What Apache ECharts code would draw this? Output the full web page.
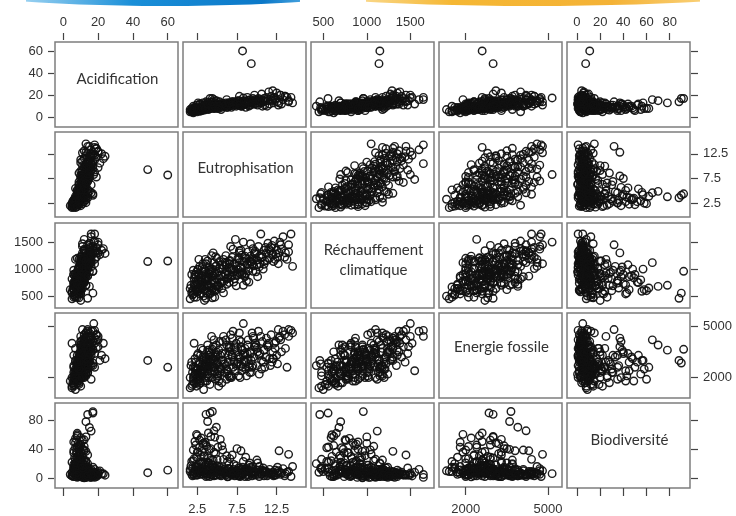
<!DOCTYPE html>
<html><head><meta charset="utf-8">
<script src="https://cdn.jsdelivr.net/npm/echarts@6/dist/echarts.min.js"></script>
<style>html,body{margin:0;padding:0;background:#fff}#c{width:736px;height:516px}</style>
</head><body><div id="c"></div>
<script>
// One value per observation; the five arrays share the same order.
const acidification = [60,48.5,14,17,17,13,15,16,12,8, 7,6,8.5,10,7,9,6,8,7.5,9, 11,10,13,14,8,6.5,9,7,10,8, 5,7,9.5,6,12,8,10,7,5,6, 4,7.5,6,5,8,6,12,5.5,8,6, 13,7,6.5,8,11.5,9,8,10.5,12,9, 8,10,9,14,8.5,10,9,11,10,9.5, 12,10,11,9,12.5,10,11,13,10,12, 11,13,12,10.5,14,12,11,13,12,14, 11.5,13,12,15,13,12,14,17.5,15,12, 14,13,15.5,14,16,13,15,14,16,15, 17,14,16,10,17,11,18,15,12,19, 16,18,22,11,20,16,19,15,18,13, 8,9,11,7,10,12,9,13,11,14, 10,12,8,13,11,15,10,12,14,9, 16,11,7,13,10,12,15,9,12,14, 8,11,20,23,24,18,6,5,10,13,
  9,11,10,8,12,10,9,11,13,8, 12,9,10,7,11,13,6,9,12,8, 10,14,7,11,13,9,12,15,10,13, 11,14,12,16,13,10,15,17,12,19, 8,12,10,9,11,7,13,14,10,16, 18,21,19,20,17,6,8,10,7,9, 12,11,9,13,8,11,9,12,10,13, 11,14,12,15,16,13,7,8,11,14];
const eutrophisation = [8.2,9.3,3.6,4.1,4.4,3.8,4.9,4.6,5.4,2.5, 3.0,2.2,3.3,3.6,2.8,4.2,2.0,3.1,2.6,4.8, 7.5,8.0,12.8,14.0,3.4,2.4,3.9,2.1,5.8,4.5, 1.8,3.2,4.0,2.7,6.5,3.5,5.0,2.3,1.6,1.9, 2.0,2.2,2.4,2.5,2.6,2.7,2.8,2.9,3.0,3.1, 3.2,3.3,3.4,3.5,3.6,3.7,3.8,3.9,4.0,4.1, 4.2,4.3,4.4,4.5,4.6,4.7,4.8,4.9,5.0,5.1, 5.2,5.3,5.5,5.6,5.7,5.9,6.0,6.1,6.2,6.3, 6.4,6.6,6.7,6.8,6.9,7.0,7.1,7.2,7.3,7.4, 7.5,7.6,7.7,7.8,7.9,8.0,8.1,8.3,8.4,8.5, 8.6,8.8,8.9,9.0,9.2,9.3,9.5,9.6,9.8,10.0, 10.2,10.4,10.5,10.7,10.9,11.0,11.2,11.4,11.6,11.8, 12.0,12.2,12.5,12.7,13.0,13.3,13.6,14.0,14.3,14.5, 2.9,3.5,4.4,3.9,5.4,6.5,6.3,7.1,8.2,9.1, 5.8,4.8,5.2,6.9,7.8,9.9,3.2,8.7,10.8,4.3, 12.3,6.1,2.3,9.4,7.4,5.0,11.1,2.6,8.0,12.6, 4.7,10.1,9.7,11.5,12.0,13.8,1.7,2.1,6.6,10.3,
  2.3,2.8,3.2,3.7,4.0,4.6,2.9,3.3,4.2,2.4, 5.6,6.2,2.0,3.0,3.8,2.6,1.9,2.2,3.6,4.1, 4.9,5.3,5.5,6.0,6.4,6.8,7.2,7.6,8.1,8.5, 8.9,9.4,9.8,10.3,10.6,11.3,11.9,12.4,13.1,13.5, 5.0,4.5,3.4,4.4,6.7,2.7,8.3,7.0,9.0,6.2, 8.8,10.6,7.8,12.9,9.5,2.5,3.9,4.7,3.5,5.1, 5.7,6.9,8.6,10.0,2.1,2.4,3.1,3.8,5.2,6.5, 7.9,8.4,9.6,10.9,11.7,12.1,1.6,1.8,9.2,4.3];
const rechauffement = [1150,1140,460,555,960,700,680,1120,750,620, 800,900,1000,860,540,730,980,650,780,1050, 900,950,1300,1450,600,700,830,480,1180,880, 560,740,920,640,1020,810,690,900,450,520, 620,700,480,580,800,900,1050,640,560,760, 950,500,680,880,1100,600,720,840,980,540, 660,790,1000,870,620,930,760,1060,820,700, 960,1140,880,640,1000,780,900,1080,720,950, 830,1160,1010,860,1220,940,760,1100,1550,1050, 880,990,1180,1120,920,1040,1260,1500,1140,860, 1200,1080,1320,1010,1240,1130,1380,1060,1280,1170, 1420,1100,1650,1230,1350,1150,1300,1480,1200,1400, 1260,1520,1350,1100,1450,1600,1300,1320,1650,1050, 850,1180,640,920,1020,750,840,1000,920,1150, 560,1230,870,870,1300,950,1100,780,1000,590, 1180,1250,770,1180,690,930,1400,1000,1350,1220, 480,860,1300,1380,1290,1180,700,820,1100,1240,
  620,760,880,560,1040,790,690,940,1000,600, 1080,820,540,720,1150,990,600,860,780,950, 620,1020,740,1130,890,1010,820,1200,900,1240, 970,1090,1330,1040,1210,1160,1440,1280,1370,1220, 1200,1300,420,470,1420,1180,700,1370,760,1120, 1100,1270,1340,1500,960,740,650,590,840,710, 860,980,920,1080,720,950,1030,810,670,1150, 1020,880,1190,1090,1340,1140,640,900,1470,1250];
const energieFossile = [2600,3000,3000,2850,3650,3600,3900,4200,3300,2500, 2200,2600,3100,2900,1800,3400,2000,2700,1900,3200, 3500,3800,4300,4800,2300,1700,3000,2100,4400,2600, 1500,2400,3300,1600,3700,2800,2200,2500,1400,1600, 1800,2200,1500,2000,2500,1900,2800,1700,2400,2100, 3000,1300,2300,2600,3200,1800,2700,2200,3500,1600, 2900,2000,3100,3800,2400,2600,1900,3300,2800,2100, 3600,4100,2500,1700,3000,2300,3400,2700,3900,2200, 2900,3500,4500,2000,3200,2600,3000,3700,2400,4000, 2800,3300,2100,4600,3100,2700,3600,5150,3000,3400, 2500,3900,4200,2800,3500,2300,4400,3200,3800,2700, 4700,3400,4400,4100,3600,2600,4300,3800,3100,4500, 3500,4000,3300,4800,4200,4700,3700,4400,4750,4600, 3300,2700,3100,2000,2600,3800,2400,2900,3600,2300, 2800,3400,1800,4300,3200,3900,3600,2100,2900,2600, 3700,4200,2900,4600,2700,2900,3200,2300,4100,2800, 2300,3500,3800,4000,3100,2600,2700,4000,2000,2200,
  2400,2900,3200,2100,3600,2600,2300,2800,3000,1900, 3400,2500,2600,3700,2500,3400,2300,3100,2000,2700, 3500,2300,3000,2800,3300,2100,3800,2900,2400,3700, 3100,2600,4000,3300,2500,3900,2900,4100,3500,4500, 2000,3000,2700,2800,3800,2200,3300,4700,2600,1900, 3400,3000,4200,4400,2700,3300,2600,3000,1800,2400, 4100,3300,2900,3700,1700,2100,2500,3900,1500,2100, 2000,2900,4300,3600,2700,3100,2000,2900,3400,4400];
const biodiversite = [11,7.5,88,90,92,78,70,65,53,58, 55,50,48,45,42,40,38,36,35,33, 40,37,37,32,30,28,27,26,25,24, 22,21,20,19,18,17,16,15,8,12, 5,10,14,3,6,9,11,4,13,7, 12,9,6,15,1,10,8,5,12,14, 4,9,7,11,2,13,6,8,10,12, 5,3,9,7,4,11,6,8,10,0.5, 12,5,7,9,4,6,11,2,8,5, 10,7,13,4,9,6,3,5,8,11, 7,4,1,9,6,12,5,8,3,10, 4,7,5,9,2,6,8,4,11,5, 7,3,6,9,4,12,5,8,1,15, 9,6,17,20,14,12,22,18,14,20, 8,3,15,6,2,7,4,9,13,24, 10,3,18,6,16,25,8,7,11,14, 12,20,9,6,4,7,16,3,26,15,
  45,52,47,43,39,35,31,29,57,60, 44,30,23,19,21,9,2,6,4,1, 3,10,2,5,1,3,4,2,5,1, 3,2,6,1,4,2,5,3,6,2, 11,8,20,14,5,13,22,9,17,6, 12,10,4,7,15,35,62,56,49,42, 38,31,28,24,7,3,10,2,8,12, 1,6,4,9,5,2,11,4,14,3];

const variables = [acidification, eutrophisation, rechauffement, energieFossile, biodiversite];
const varNames = ['Acidification', 'Eutrophisation', 'Réchauffement\nclimatique', 'Energie fossile', 'Biodiversité'];
const xTickValues = [[0,20,40,60],[2.5,7.5,12.5],[500,1000,1500],[2000,5000],[0,20,40,60,80]];
const yTickValues = [[0,20,40,60],[2.5,7.5,12.5],[500,1000,1500],[2000,5000],[0,40,80]];
const xRange = [[-4.77,65.9],[0.70,16.19],[359,1772],[1027,5510],[-8.6,97.5]];
const yRange = [[-8.8,68.1],[-0.29,16.9],[280,1854],[812,5763],[-13.7,103.9]];

const colLeft = [55,183,311,439,567];
const rowTop = [42,132,223,313,403];
const cellW = 123, cellH = 85;
const labelY = [79,168,260,347,440];

const labelStyle = {color:'#333', fontFamily:'Liberation Sans, Arial, sans-serif', fontSize:13, formatter: v => String(v)};
const grids = [], xAxes = [], yAxes = [], series = [], graphics = [];

for (let r = 0; r < 5; r++) {
  for (let c = 0; c < 5; c++) {
    const idx = r * 5 + c;
    grids.push({left: colLeft[c], top: rowTop[r], width: cellW, height: cellH,
      show: true, borderColor: '#7d7d7d', borderWidth: 1.5, backgroundColor: 'transparent'});
    const xOuter = (r === 0 || r === 4);
    const xLabel = (r === 0 && c % 2 === 0) || (r === 4 && c % 2 === 1);
    xAxes.push({type:'value', gridIndex: idx, min: xRange[c][0], max: xRange[c][1],
      position: r === 4 ? 'bottom' : 'top', offset: r === 4 ? 0 : 2,
      show: xOuter,
      axisLine: {show:false, onZero:false}, splitLine: {show:false},
      axisTick: {show: xOuter, inside:false, length: r === 4 ? 8 : 7, customValues: xTickValues[c], lineStyle:{color:'#444', width:1.2}},
      axisLabel: {show: xLabel, customValues: xTickValues[c], margin: r === 4 ? 16 : 11, ...labelStyle}
    });
    const yOuter = (c === 0 || c === 4);
    const yLabel = (c === 0 && r % 2 === 0) || (c === 4 && r % 2 === 1);
    yAxes.push({type:'value', gridIndex: idx, min: yRange[r][0], max: yRange[r][1],
      position: c === 4 ? 'right' : 'left', offset: 1,
      show: yOuter,
      axisLine: {show:false, onZero:false}, splitLine: {show:false},
      axisTick: {show: yOuter, inside:false, length: c === 4 ? 7 : 6, customValues: yTickValues[r], lineStyle:{color:'#444', width:1.2}},
      axisLabel: {show: yLabel, customValues: yTickValues[r], margin: c === 4 ? 12 : 11, ...labelStyle}
    });
    if (r !== c) {
      series.push({type:'scatter', xAxisIndex: idx, yAxisIndex: idx,
        data: variables[c].map((v, i) => [v, variables[r][i]]),
        symbol:'circle', symbolSize: 7.5, silent: true,
        itemStyle: {color:'rgba(0,0,0,0)', borderColor:'#111', borderWidth:1.4, opacity:0.95}});
    } else {
      graphics.push({type:'text', x: colLeft[c] + cellW / 2 + 1, y: labelY[r],
        style: {text: varNames[r], fill:'#333', fontFamily:'Lato, "Open Sans", sans-serif', fontSize:15,
          align:'center', verticalAlign:'middle', lineHeight:20}});
    }
  }
}

// decorative banner at the top edge
graphics.push({type:'ellipse', shape:{cx:165, cy:-40, rx:330, ry:46}, z:-1,
  style:{fill:{type:'linear', x:0, y:0, x2:1, y2:0, colorStops:[
    {offset:0.28, color:'#9fd4f2'}, {offset:0.45, color:'#1a8fd8'}, {offset:0.65, color:'#0b78c8'}, {offset:0.75, color:'#6fc0ee'}]}}});
graphics.push({type:'ellipse', shape:{cx:532, cy:-40, rx:400, ry:46}, z:-1,
  style:{fill:{type:'linear', x:0, y:0, x2:1, y2:0, colorStops:[
    {offset:0.25, color:'#fbe3a8'}, {offset:0.4, color:'#f5b733'}, {offset:0.6, color:'#f4b236'}, {offset:0.75, color:'#fbd98a'}]}}});
graphics.push({type:'rect', shape:{x:300, y:0, width:66, height:12}, z:0, style:{fill:'#fff'}});
graphics.push({type:'rect', shape:{x:0, y:0, width:26, height:12}, z:0, style:{fill:'#fff'}});
graphics.push({type:'rect', shape:{x:700, y:0, width:36, height:12}, z:0, style:{fill:'#fff'}});

const chart = echarts.init(document.getElementById('c'), null, {renderer:'canvas'});
chart.setOption({animation:false, grid: grids, xAxis: xAxes, yAxis: yAxes, series, graphic: graphics});
</script></body></html>
